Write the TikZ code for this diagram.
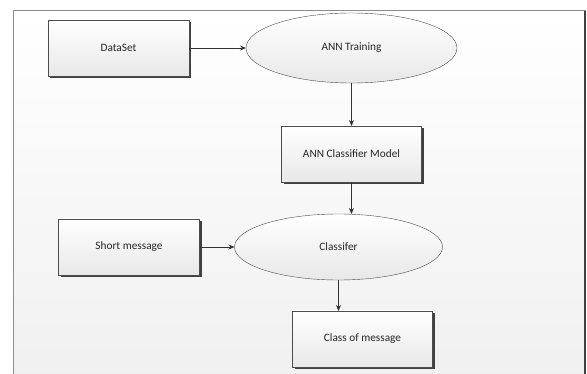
\documentclass[tikz,border=0pt]{standalone}
\usepackage{fontspec}
\setmainfont{Carlito}
\usetikzlibrary{arrows.meta, positioning, shapes.geometric, shadows}

\begin{document}
\begin{tikzpicture}[x=1pt, y=-1pt, >={Stealth[length=6pt,width=5pt]}, node distance=2cm,
  box/.style={draw=black!70, rectangle, minimum width=141pt, minimum height=56pt, inner sep=0pt, outer sep=0pt,
    top color=white, bottom color=black!9, text=black!85, font=\fontsize{11.3}{13}\selectfont,
    drop shadow={shadow xshift=2pt, shadow yshift=-2pt, fill=black!75, opacity=1}},
  oval/.style={draw=black!70, ellipse, inner sep=0pt, outer sep=0pt,
    top color=white, bottom color=black!9, text=black!85, font=\fontsize{11.3}{13}\selectfont},
  link/.style={->, draw=black!80, line width=0.8pt}]
\useasboundingbox (0,0) rectangle (587,374);
\begin{scope}
\clip (0,0) rectangle (587,374);
\draw[draw=black!45, line width=1pt, top color=white, bottom color=black!6] (13,11) rectangle (585,392);
\draw[black!75, line width=1.5pt] (585,11) -- (585,374);
\end{scope}
\node[box] (dset) at (118.5,48) {DataSet};
\node[oval, minimum width=211pt, minimum height=70pt, right=57pt of dset] (train) {ANN Training};
\node[box, minimum width=140pt, below=43pt of train] (model) {ANN Classifier Model};
\node[oval, minimum width=208pt, minimum height=66pt, below=32pt of model, xshift=-13pt] (clf) {Classifer};
\node[box, left=35pt of clf] (msg) {Short message};
\node[box, minimum width=140pt, below=31pt of clf, xshift=24pt] (cls) {Class of message};
\draw[link] (dset) -- (train);
\draw[link] (train) -- (model);
\draw[link] (model) -- (model |- clf.north);
\draw[link] (msg) -- (clf);
\draw[link] (clf) -- (clf |- cls.north);
\end{tikzpicture}
\end{document}
